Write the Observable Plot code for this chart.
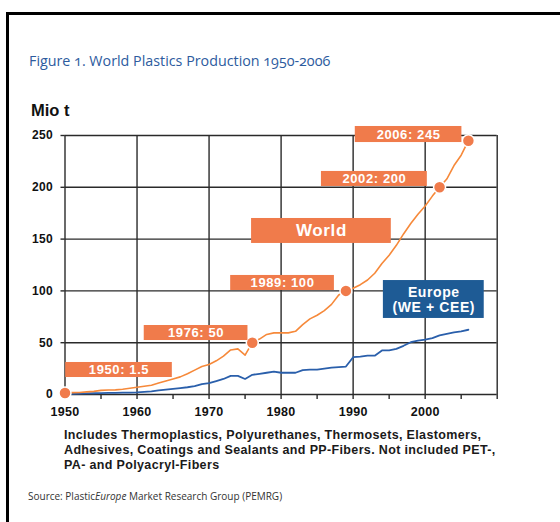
<!DOCTYPE html>
<html>
<head>
<meta charset="utf-8">
<script src="https://cdn.jsdelivr.net/npm/d3@7"></script>
<script src="https://cdn.jsdelivr.net/npm/@observablehq/plot@0.6"></script>
<style>
  html, body { margin: 0; padding: 0; background: #fff; }
  body { width: 560px; height: 522px; position: relative; overflow: hidden; }
  .frame { position: absolute; left: 6px; top: 12px; width: 620px; height: 620px;
           border-top: 3px solid #000; border-left: 3px solid #000; }
  .title { position: absolute; left: 29px; top: 51px; font-family: "Open Sans", sans-serif;
           font-size: 14.3px; color: #2d5b9e; white-space: nowrap; font-feature-settings: "onum"; }
  .unit { position: absolute; left: 31px; top: 101px; font-family: "Liberation Sans", Arial, sans-serif;
          font-weight: bold; font-size: 16.5px; color: #111; }
  #chart { position: absolute; left: 0; top: 120px; }
  .note { position: absolute; left: 64px; top: 428px; font-family: "Liberation Sans", Arial, sans-serif;
          font-weight: bold; font-size: 12.5px; line-height: 15px; color: #1a1a1a; white-space: nowrap; letter-spacing: 0.35px; }
  .src { position: absolute; left: 28px; top: 489px; font-family: "Open Sans", sans-serif;
         font-size: 10px; color: #333; white-space: nowrap; }
</style>
</head>
<body>
<div class="frame"></div>
<div class="title">Figure 1. World Plastics Production 1950-2006</div>
<div class="unit">Mio t</div>
<div id="chart"></div>
<div class="note">Includes Thermoplastics, Polyurethanes, Thermosets, Elastomers,<br>Adhesives, Coatings and Sealants and PP-Fibers. Not included PET-,<br>PA- and Polyacryl-Fibers</div>
<div class="src">Source: Plastic<i>Europe</i> Market Research Group (PEMRG)</div>
<script>
// ---- data ----
const years = [1950,1951,1952,1953,1954,1955,1956,1957,1958,1959,
               1960,1961,1962,1963,1964,1965,1966,1967,1968,1969,
               1970,1971,1972,1973,1974,1975,1976,1977,1978,1979,
               1980,1981,1982,1983,1984,1985,1986,1987,1988,1989,
               1990,1991,1992,1993,1994,1995,1996,1997,1998,1999,
               2000,2001,2002,2003,2004,2005,2006];
const world = [1.5,1.8,2,2.5,3,4,4.3,4.5,5,6,
               7,8,9,11,13,15,17,20,23.5,27,
               29,32.5,37,43,44,38,50,53.5,58,59.5,
               59.5,59.5,61,67.5,73,76.5,81,87,96,100,
               102.5,106,110.5,117,126.5,134.5,144,155,165,174,
               182,191.5,200,208,221,231,245];
const europe = [0.5,0.7,0.8,1,1.2,1.3,1.5,1.6,1.8,1.9,
                2,2.5,3,4,4.8,5.5,6.2,7,8,10,
                11,13,15,18,18,15,19,20,21,22,
                21,21,21,23.5,24,24,25,26,26.5,27,
                36,36.5,37.5,37.5,42.5,42.5,44,47,50.5,52,
                53,54.5,57,58.5,60,61,62.5];

const highlightYears  = [1950, 1976, 1989, 2002, 2006];
const highlightValues = [1.5, 50, 100, 200, 245];

const xTickLabels = [1950, 1960, 1970, 1980, 1990, 2000];
const xGrid = [1950, 1960, 1970, 1980, 1990, 2000, 2010];
const xMinor = [1950,1955,1960,1965,1970,1975,1980,1985,1990,1995,2000,2005,2010];
const yTicks = [0, 50, 100, 150, 200, 250];

// annotation boxes (label text and placement in data units)
const boxText = ["1950: 1.5", "1976: 50", "1989: 100", "World", "2002: 200", "2006: 245"];
const boxX1 = [1950.1, 1961.0, 1973.0, 1975.9, 1985.6, 1990.3];
const boxX2 = [1964.9, 1975.4, 1987.4, 1995.3, 2000.3, 2005.1];
const boxY1 = [16.4, 52.1, 100.4, 145.8, 200.8, 243.2];
const boxY2 = [30.9, 66.6, 114.9, 169.9, 215.3, 258.7];
const euroText = "Europe\n(WE + CEE)";
const euroBox = {x1: 1994.2, x2: 2008.2, y1: 73.4, y2: 110.0};

// ---- tables ----
const worldData = years.map((y, i) => ({year: y, value: world[i]}));
const europeData = years.map((y, i) => ({year: y, value: europe[i]}));
const dots = highlightYears.map((y, i) => ({year: y, value: highlightValues[i]}));
const boxes = boxText.map((t, i) => ({text: t, x1: boxX1[i], x2: boxX2[i], y1: boxY1[i], y2: boxY2[i],
  big: t === "World"}));

const orangeBox = "#f07b4b";
const orangeLine = "#f6893a";
const blueLine = "#2a5fab";
const blueBox = "#1e5b95";
const gridColor = "#2a2a2a";

const chart = Plot.plot({
  width: 560,
  height: 300,
  marginTop: 15,
  marginLeft: 64.5,
  marginRight: 63.3,
  marginBottom: 26,
  style: {fontFamily: "'Liberation Sans', Arial, sans-serif", fontSize: "12px", fontWeight: "bold",
          color: "#111", background: "transparent", overflow: "visible"},
  x: {domain: [1950, 2010], label: null},
  y: {domain: [0, 250], label: null},
  marks: [
    Plot.ruleX(xGrid, {stroke: gridColor, strokeWidth: 1.4}),
    Plot.ruleY(yTicks, {stroke: gridColor, strokeWidth: 1.4}),
    Plot.axisX({ticks: xMinor, tickSize: 5, text: null, stroke: gridColor, strokeWidth: 1.4}),
    Plot.axisX({ticks: xTickLabels, tickSize: 0, tickPadding: 13, tickFormat: d => String(d), fontSize: 12.5}),
    Plot.axisY({ticks: yTicks, tickSize: 4, tickPadding: 8, stroke: gridColor, strokeWidth: 1.4, fontSize: 12}),
    Plot.line(europeData, {x: "year", y: "value", stroke: blueLine, strokeWidth: 1.8}),
    Plot.line(worldData, {x: "year", y: "value", stroke: orangeLine, strokeWidth: 1.6}),
    Plot.dot(dots, {x: "year", y: "value", r: 6, fill: orangeBox, stroke: "#fff", strokeWidth: 1.5}),
    Plot.rect(boxes, {x1: "x1", x2: "x2", y1: "y1", y2: "y2", fill: orangeBox}),
    Plot.text(boxes, {x: d => (d.x1 + d.x2) / 2, y: d => (d.y1 + d.y2) / 2, text: "text", fill: "#fff",
      fontWeight: "bold", fontSize: d => d.big ? 17 : 13, className: "boxlabel"}),
    Plot.rect([euroBox], {x1: "x1", x2: "x2", y1: "y1", y2: "y2", fill: blueBox}),
    Plot.text([euroBox], {x: d => (d.x1 + d.x2) / 2, y: d => (d.y1 + d.y2) / 2, text: () => euroText,
      fill: "#fff", fontWeight: "bold", fontSize: 14, lineHeight: 1.08, className: "boxlabel"})
  ]
});
d3.select(chart).selectAll(".boxlabel text").attr("letter-spacing", "0.6px");
d3.select(chart).selectAll("g[aria-label='x-axis tick label'] text, g[aria-label='y-axis tick label'] text")
  .attr("letter-spacing", "0.3px");
document.getElementById("chart").appendChild(chart);
</script>
</body>
</html>
